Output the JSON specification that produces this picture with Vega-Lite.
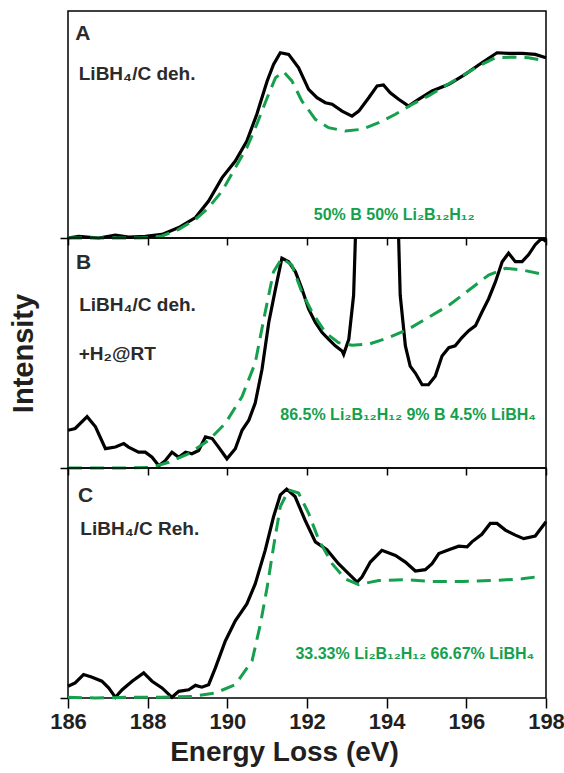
{
  "$schema": "https://vega.github.io/schema/vega-lite/v6.json",
  "padding": {"left": 8, "top": 10, "right": 0, "bottom": 0},
  "background": "white",
  "spacing": 0,
  "bounds": "flush",
  "config": {
    "view": {"stroke": "#000", "strokeWidth": 1.5},
    "font": "Liberation Sans"
  },
  "datasets": {
    "A": [
      {"series":"m","energy":186.00,"intensity":0.0},{"series":"m","energy":186.27,"intensity":0.007},{"series":"m","energy":186.77,"intensity":0.0},{"series":"m","energy":187.19,"intensity":0.013},{"series":"m","energy":187.52,"intensity":0.004},{"series":"m","energy":187.94,"intensity":0.007},{"series":"m","energy":188.36,"intensity":0.016},{"series":"m","energy":188.78,"intensity":0.046},{"series":"m","energy":189.20,"intensity":0.090},{"series":"m","energy":189.53,"intensity":0.163},{"series":"m","energy":189.87,"intensity":0.266},{"series":"m","energy":190.20,"intensity":0.339},{"series":"m","energy":190.49,"intensity":0.427},{"series":"m","energy":190.74,"intensity":0.545},{"series":"m","energy":191.00,"intensity":0.692},{"series":"m","energy":191.16,"intensity":0.765},{"series":"m","energy":191.33,"intensity":0.816},{"series":"m","energy":191.54,"intensity":0.809},{"series":"m","energy":191.79,"intensity":0.750},{"series":"m","energy":192.04,"intensity":0.655},{"series":"m","energy":192.25,"intensity":0.618},{"series":"m","energy":192.46,"intensity":0.596},{"series":"m","energy":192.63,"intensity":0.589},{"series":"m","energy":192.88,"intensity":0.559},{"series":"m","energy":193.13,"intensity":0.537},{"series":"m","energy":193.30,"intensity":0.559},{"series":"m","energy":193.55,"intensity":0.618},{"series":"m","energy":193.76,"intensity":0.670},{"series":"m","energy":193.92,"intensity":0.674},{"series":"m","energy":194.09,"intensity":0.640},{"series":"m","energy":194.30,"intensity":0.611},{"series":"m","energy":194.55,"intensity":0.581},{"series":"m","energy":194.80,"intensity":0.611},{"series":"m","energy":195.14,"intensity":0.648},{"series":"m","energy":195.56,"intensity":0.677},{"series":"m","energy":195.97,"intensity":0.721},{"series":"m","energy":196.39,"intensity":0.772},{"series":"m","energy":196.77,"intensity":0.816},{"series":"m","energy":197.06,"intensity":0.813},{"series":"m","energy":197.40,"intensity":0.813},{"series":"m","energy":197.73,"intensity":0.809},{"series":"m","energy":198.00,"intensity":0.794},
      {"series":"f","energy":186.00,"intensity":0.0},{"series":"f","energy":186.69,"intensity":0.0},{"series":"f","energy":187.52,"intensity":0.0},{"series":"f","energy":188.03,"intensity":0.001},{"series":"f","energy":188.36,"intensity":0.009},{"series":"f","energy":188.78,"intensity":0.038},{"series":"f","energy":189.20,"intensity":0.082},{"series":"f","energy":189.53,"intensity":0.134},{"series":"f","energy":189.87,"intensity":0.207},{"series":"f","energy":190.20,"intensity":0.310},{"series":"f","energy":190.49,"intensity":0.398},{"series":"f","energy":190.74,"intensity":0.501},{"series":"f","energy":191.00,"intensity":0.618},{"series":"f","energy":191.21,"intensity":0.706},{"series":"f","energy":191.41,"intensity":0.733},{"series":"f","energy":191.62,"intensity":0.692},{"series":"f","energy":191.87,"intensity":0.604},{"series":"f","energy":192.21,"intensity":0.523},{"series":"f","energy":192.54,"intensity":0.486},{"series":"f","energy":192.96,"intensity":0.471},{"series":"f","energy":193.38,"intensity":0.479},{"series":"f","energy":193.80,"intensity":0.508},{"series":"f","energy":194.22,"intensity":0.545},{"series":"f","energy":194.64,"intensity":0.589},{"series":"f","energy":195.05,"intensity":0.626},{"series":"f","energy":195.47,"intensity":0.670},{"series":"f","energy":195.89,"intensity":0.714},{"series":"f","energy":196.31,"intensity":0.758},{"series":"f","energy":196.73,"intensity":0.794},{"series":"f","energy":197.15,"intensity":0.797},{"series":"f","energy":197.56,"intensity":0.794},{"series":"f","energy":198.00,"intensity":0.780}
    ],
    "B": [
      {"series":"m","energy":186.00,"intensity":0.164},{"series":"m","energy":186.18,"intensity":0.172},{"series":"m","energy":186.48,"intensity":0.223},{"series":"m","energy":186.69,"intensity":0.179},{"series":"m","energy":186.94,"intensity":0.084},{"series":"m","energy":187.19,"intensity":0.091},{"series":"m","energy":187.40,"intensity":0.106},{"series":"m","energy":187.52,"intensity":0.091},{"series":"m","energy":187.77,"intensity":0.069},{"series":"m","energy":187.94,"intensity":0.069},{"series":"m","energy":188.11,"intensity":0.047},{"series":"m","energy":188.28,"intensity":0.010},{"series":"m","energy":188.44,"intensity":0.032},{"series":"m","energy":188.61,"intensity":0.069},{"series":"m","energy":188.78,"intensity":0.047},{"series":"m","energy":188.95,"intensity":0.069},{"series":"m","energy":189.11,"intensity":0.062},{"series":"m","energy":189.28,"intensity":0.076},{"series":"m","energy":189.45,"intensity":0.135},{"series":"m","energy":189.62,"intensity":0.128},{"series":"m","energy":189.78,"intensity":0.091},{"series":"m","energy":189.99,"intensity":0.040},{"series":"m","energy":190.20,"intensity":0.084},{"series":"m","energy":190.37,"intensity":0.164},{"series":"m","energy":190.54,"intensity":0.208},{"series":"m","energy":190.70,"intensity":0.282},{"series":"m","energy":190.87,"intensity":0.428},{"series":"m","energy":191.04,"intensity":0.633},{"series":"m","energy":191.21,"intensity":0.780},{"series":"m","energy":191.37,"intensity":0.912},{"series":"m","energy":191.54,"intensity":0.897},{"series":"m","energy":191.71,"intensity":0.853},{"series":"m","energy":191.87,"intensity":0.780},{"series":"m","energy":192.04,"intensity":0.692},{"series":"m","energy":192.21,"intensity":0.633},{"series":"m","energy":192.38,"intensity":0.589},{"series":"m","energy":192.54,"intensity":0.560},{"series":"m","energy":192.71,"intensity":0.531},{"series":"m","energy":192.88,"intensity":0.509},{"series":"m","energy":192.92,"intensity":0.494},{"series":"m","energy":193.05,"intensity":0.560},{"series":"m","energy":193.17,"intensity":0.751},{"series":"m","energy":193.21,"intensity":0.971},{"series":"m","energy":193.28,"intensity":1.4},{"series":"m","energy":193.75,"intensity":2.5},{"series":"m","energy":194.26,"intensity":1.4},{"series":"m","energy":194.30,"intensity":1.0},{"series":"m","energy":194.34,"intensity":0.751},{"series":"m","energy":194.47,"intensity":0.531},{"series":"m","energy":194.59,"intensity":0.443},{"series":"m","energy":194.72,"intensity":0.413},{"series":"m","energy":194.89,"intensity":0.362},{"series":"m","energy":195.05,"intensity":0.362},{"series":"m","energy":195.22,"intensity":0.399},{"series":"m","energy":195.39,"intensity":0.487},{"series":"m","energy":195.56,"intensity":0.523},{"series":"m","energy":195.72,"intensity":0.531},{"series":"m","energy":195.89,"intensity":0.567},{"series":"m","energy":196.06,"intensity":0.597},{"series":"m","energy":196.23,"intensity":0.619},{"series":"m","energy":196.39,"intensity":0.677},{"series":"m","energy":196.56,"intensity":0.736},{"series":"m","energy":196.73,"intensity":0.809},{"series":"m","energy":196.90,"intensity":0.897},{"series":"m","energy":197.06,"intensity":0.934},{"series":"m","energy":197.23,"intensity":0.897},{"series":"m","energy":197.40,"intensity":0.897},{"series":"m","energy":197.56,"intensity":0.927},{"series":"m","energy":197.73,"intensity":0.971},{"series":"m","energy":197.90,"intensity":1.0},{"series":"m","energy":198.00,"intensity":0.985},
      {"series":"f","energy":186.00,"intensity":0.0},{"series":"f","energy":186.69,"intensity":0.0},{"series":"f","energy":187.52,"intensity":0.0},{"series":"f","energy":188.11,"intensity":0.003},{"series":"f","energy":188.53,"intensity":0.025},{"series":"f","energy":189.03,"intensity":0.062},{"series":"f","energy":189.53,"intensity":0.120},{"series":"f","energy":189.95,"intensity":0.194},{"series":"f","energy":190.37,"intensity":0.311},{"series":"f","energy":190.70,"intensity":0.457},{"series":"f","energy":190.95,"intensity":0.677},{"series":"f","energy":191.16,"intensity":0.853},{"series":"f","energy":191.37,"intensity":0.912},{"series":"f","energy":191.62,"intensity":0.883},{"series":"f","energy":191.87,"intensity":0.765},{"series":"f","energy":192.13,"intensity":0.677},{"series":"f","energy":192.46,"intensity":0.589},{"series":"f","energy":192.79,"intensity":0.545},{"series":"f","energy":193.13,"intensity":0.534},{"series":"f","energy":193.55,"intensity":0.538},{"series":"f","energy":194.05,"intensity":0.567},{"series":"f","energy":194.55,"intensity":0.604},{"series":"f","energy":195.05,"intensity":0.655},{"series":"f","energy":195.56,"intensity":0.707},{"series":"f","energy":196.06,"intensity":0.773},{"series":"f","energy":196.56,"intensity":0.839},{"series":"f","energy":196.98,"intensity":0.868},{"series":"f","energy":197.40,"intensity":0.861},{"series":"f","energy":198.00,"intensity":0.839}
    ],
    "C": [
      {"series":"m","energy":186.00,"intensity":0.051},{"series":"m","energy":186.18,"intensity":0.066},{"series":"m","energy":186.39,"intensity":0.102},{"series":"m","energy":186.59,"intensity":0.091},{"series":"m","energy":186.85,"intensity":0.073},{"series":"m","energy":187.02,"intensity":0.044},{"series":"m","energy":187.19,"intensity":0.003},{"series":"m","energy":187.36,"intensity":0.036},{"series":"m","energy":187.61,"intensity":0.073},{"series":"m","energy":187.90,"intensity":0.109},{"series":"m","energy":188.11,"intensity":0.073},{"series":"m","energy":188.36,"intensity":0.044},{"series":"m","energy":188.61,"intensity":0.003},{"series":"m","energy":188.78,"intensity":0.029},{"series":"m","energy":189.03,"intensity":0.036},{"series":"m","energy":189.20,"intensity":0.055},{"series":"m","energy":189.36,"intensity":0.047},{"series":"m","energy":189.53,"intensity":0.058},{"series":"m","energy":189.70,"intensity":0.131},{"series":"m","energy":189.95,"intensity":0.248},{"series":"m","energy":190.20,"intensity":0.336},{"series":"m","energy":190.49,"intensity":0.409},{"series":"m","energy":190.70,"intensity":0.496},{"series":"m","energy":190.95,"intensity":0.642},{"series":"m","energy":191.16,"intensity":0.788},{"series":"m","energy":191.33,"intensity":0.883},{"series":"m","energy":191.49,"intensity":0.908},{"series":"m","energy":191.70,"intensity":0.876},{"series":"m","energy":191.95,"intensity":0.774},{"series":"m","energy":192.21,"intensity":0.679},{"series":"m","energy":192.50,"intensity":0.645},{"series":"m","energy":192.79,"intensity":0.584},{"series":"m","energy":193.05,"intensity":0.540},{"series":"m","energy":193.26,"intensity":0.504},{"series":"m","energy":193.38,"intensity":0.526},{"series":"m","energy":193.59,"intensity":0.591},{"series":"m","energy":193.88,"intensity":0.642},{"series":"m","energy":194.22,"intensity":0.620},{"series":"m","energy":194.47,"intensity":0.591},{"series":"m","energy":194.72,"intensity":0.552},{"series":"m","energy":194.97,"intensity":0.558},{"series":"m","energy":195.14,"intensity":0.584},{"series":"m","energy":195.31,"intensity":0.628},{"series":"m","energy":195.56,"intensity":0.645},{"series":"m","energy":195.81,"intensity":0.660},{"series":"m","energy":196.02,"intensity":0.657},{"series":"m","energy":196.14,"intensity":0.679},{"series":"m","energy":196.39,"intensity":0.712},{"series":"m","energy":196.60,"intensity":0.759},{"series":"m","energy":196.77,"intensity":0.759},{"series":"m","energy":196.98,"intensity":0.730},{"series":"m","energy":197.23,"intensity":0.708},{"series":"m","energy":197.44,"intensity":0.693},{"series":"m","energy":197.73,"intensity":0.704},{"series":"m","energy":198.00,"intensity":0.766},
      {"series":"f","energy":186.00,"intensity":0.003},{"series":"f","energy":186.69,"intensity":0.0},{"series":"f","energy":187.52,"intensity":0.003},{"series":"f","energy":188.36,"intensity":0.003},{"series":"f","energy":189.11,"intensity":0.007},{"series":"f","energy":189.70,"intensity":0.022},{"series":"f","energy":190.20,"intensity":0.058},{"series":"f","energy":190.62,"intensity":0.161},{"series":"f","energy":190.83,"intensity":0.321},{"series":"f","energy":191.00,"intensity":0.482},{"series":"f","energy":191.16,"intensity":0.657},{"series":"f","energy":191.33,"intensity":0.832},{"series":"f","energy":191.54,"intensity":0.905},{"series":"f","energy":191.79,"intensity":0.891},{"series":"f","energy":192.04,"intensity":0.803},{"series":"f","energy":192.30,"intensity":0.686},{"series":"f","energy":192.63,"intensity":0.584},{"series":"f","energy":192.96,"intensity":0.518},{"series":"f","energy":193.30,"intensity":0.493},{"series":"f","energy":193.80,"intensity":0.511},{"series":"f","energy":194.47,"intensity":0.514},{"series":"f","energy":195.14,"intensity":0.507},{"series":"f","energy":195.89,"intensity":0.507},{"series":"f","energy":196.73,"intensity":0.511},{"series":"f","energy":197.40,"intensity":0.518},{"series":"f","energy":197.82,"intensity":0.528}
    ],
    "labels": [
      {"panel":"A","kind":"letter","text":"A","energy":186.18,"intensity":0.872},
      {"panel":"A","kind":"sample","text":"LiBH₄/C deh.","energy":186.27,"intensity":0.696},
      {"panel":"A","kind":"fit","text":"50% B 50% Li₂B₁₂H₁₂","energy":192.17,"intensity":0.078},
      {"panel":"B","kind":"letter","text":"B","energy":186.20,"intensity":0.864},
      {"panel":"B","kind":"sample","text":"LiBH₄/C deh.","energy":186.28,"intensity":0.681},
      {"panel":"B","kind":"sample","text":"+H₂@RT","energy":186.27,"intensity":0.469},
      {"panel":"B","kind":"fit","text":"86.5% Li₂B₁₂H₁₂ 9% B 4.5% LiBH₄","energy":191.33,"intensity":0.209},
      {"panel":"C","kind":"letter","text":"C","energy":186.25,"intensity":0.853},
      {"panel":"C","kind":"sample","text":"LiBH₄/C Reh.","energy":186.31,"intensity":0.707},
      {"panel":"C","kind":"fit","text":"33.33% Li₂B₁₂H₁₂ 66.67% LiBH₄","energy":191.71,"intensity":0.169}
    ]
  },
  "vconcat": [
    {
      "width": 478, "height": 227,
      "layer": [
        {
          "data": {"name": "A"},
          "transform": [{"filter": "datum.series === 'm'"}],
          "mark": {"type": "line", "color": "#000", "strokeWidth": 3.2},
          "encoding": {
            "x": {"field": "energy", "type": "quantitative", "scale": {"domain": [186, 198], "nice": false, "zero": false},
                  "axis": {"orient": "bottom", "title": null, "values": [186,187,188,189,190,191,192,193,194,195,196,197,198], "labels": false, "domain": false, "tickSize": 7, "tickWidth": 1.5, "tickColor": "#000", "grid": false}},
            "y": {"field": "intensity", "type": "quantitative", "scale": {"domain": [0, 1], "nice": false, "zero": false},
                  "axis": {"title": null, "values": [0], "labels": false, "domain": false, "tickSize": 8, "tickWidth": 1.5, "tickColor": "#000", "grid": false}}
          }
        },
        {
          "data": {"name": "A"},
          "transform": [{"filter": "datum.series === 'f'"}],
          "mark": {"type": "line", "color": "#14a04c", "strokeWidth": 3, "strokeDash": [14, 8]},
          "encoding": {"x": {"field": "energy", "type": "quantitative"}, "y": {"field": "intensity", "type": "quantitative"}}
        },
        {
          "data": {"name": "labels"},
          "transform": [{"filter": "datum.panel === 'A' && datum.kind === 'letter'"}],
          "mark": {"type": "text", "align": "left", "baseline": "alphabetic", "fontSize": 21, "fontWeight": "bold", "color": "#2b2b2b"},
          "encoding": {"x": {"field": "energy", "type": "quantitative"}, "y": {"field": "intensity", "type": "quantitative"}, "text": {"field": "text"}}
        },
        {
          "data": {"name": "labels"},
          "transform": [{"filter": "datum.panel === 'A' && datum.kind === 'sample'"}],
          "mark": {"type": "text", "align": "left", "baseline": "alphabetic", "fontSize": 19, "fontWeight": "bold", "color": "#2b2b2b"},
          "encoding": {"x": {"field": "energy", "type": "quantitative"}, "y": {"field": "intensity", "type": "quantitative"}, "text": {"field": "text"}}
        },
        {
          "data": {"name": "labels"},
          "transform": [{"filter": "datum.panel === 'A' && datum.kind === 'fit'"}],
          "mark": {"type": "text", "align": "left", "baseline": "alphabetic", "fontSize": 16, "fontWeight": "bold", "color": "#14a04c"},
          "encoding": {"x": {"field": "energy", "type": "quantitative"}, "y": {"field": "intensity", "type": "quantitative"}, "text": {"field": "text"}}
        }
      ]
    },
    {
      "width": 478, "height": 230,
      "layer": [
        {
          "data": {"name": "B"},
          "transform": [{"filter": "datum.series === 'm'"}],
          "mark": {"type": "line", "color": "#000", "strokeWidth": 3.2, "clip": true},
          "encoding": {
            "x": {"field": "energy", "type": "quantitative", "scale": {"domain": [186, 198], "nice": false, "zero": false},
                  "axis": {"orient": "bottom", "title": null, "values": [186,187,188,189,190,191,192,193,194,195,196,197,198], "labels": false, "domain": false, "tickSize": 7, "tickWidth": 1.5, "tickColor": "#000", "grid": false}},
            "y": {"field": "intensity", "type": "quantitative", "scale": {"domain": [0, 1], "nice": false, "zero": false},
                  "axis": {"title": "Intensity", "titleFontSize": 29, "titleFontWeight": "bold", "titleColor": "#231f20", "titlePadding": 21, "values": [0], "labels": false, "domain": false, "tickSize": 8, "tickWidth": 1.5, "tickColor": "#000", "grid": false}}
          }
        },
        {
          "data": {"name": "B"},
          "transform": [{"filter": "datum.series === 'f'"}],
          "mark": {"type": "line", "color": "#14a04c", "strokeWidth": 3, "strokeDash": [14, 8]},
          "encoding": {"x": {"field": "energy", "type": "quantitative"}, "y": {"field": "intensity", "type": "quantitative"}}
        },
        {
          "data": {"name": "labels"},
          "transform": [{"filter": "datum.panel === 'B' && datum.kind === 'letter'"}],
          "mark": {"type": "text", "align": "left", "baseline": "alphabetic", "fontSize": 21, "fontWeight": "bold", "color": "#2b2b2b"},
          "encoding": {"x": {"field": "energy", "type": "quantitative"}, "y": {"field": "intensity", "type": "quantitative"}, "text": {"field": "text"}}
        },
        {
          "data": {"name": "labels"},
          "transform": [{"filter": "datum.panel === 'B' && datum.kind === 'sample'"}],
          "mark": {"type": "text", "align": "left", "baseline": "alphabetic", "fontSize": 19, "fontWeight": "bold", "color": "#2b2b2b"},
          "encoding": {"x": {"field": "energy", "type": "quantitative"}, "y": {"field": "intensity", "type": "quantitative"}, "text": {"field": "text"}}
        },
        {
          "data": {"name": "labels"},
          "transform": [{"filter": "datum.panel === 'B' && datum.kind === 'fit'"}],
          "mark": {"type": "text", "align": "left", "baseline": "alphabetic", "fontSize": 16, "fontWeight": "bold", "color": "#14a04c"},
          "encoding": {"x": {"field": "energy", "type": "quantitative"}, "y": {"field": "intensity", "type": "quantitative"}, "text": {"field": "text"}}
        }
      ]
    },
    {
      "width": 478, "height": 230,
      "layer": [
        {
          "data": {"name": "C"},
          "transform": [{"filter": "datum.series === 'm'"}],
          "mark": {"type": "line", "color": "#000", "strokeWidth": 3.2},
          "encoding": {
            "x": {"field": "energy", "type": "quantitative", "scale": {"domain": [186, 198], "nice": false, "zero": false},
                  "axis": {"orient": "bottom", "title": "Energy Loss (eV)", "titleFontSize": 28, "titleFontWeight": "bold", "titleColor": "#231f20", "titlePadding": 6, "titleX": 216, "titleAlign": "center",
                           "values": [186,187,188,189,190,191,192,193,194,195,196,197,198],
                           "labelExpr": "datum.value % 2 === 0 ? datum.label : ''", "labelFontSize": 22, "labelFontWeight": "bold", "labelColor": "#231f20", "labelFlush": false, "labelOverlap": false, "labelPadding": 3,
                           "domain": false, "tickSize": {"condition": {"test": "datum.value % 2 === 0", "value": 10}, "value": 6}, "tickWidth": 1.5, "tickColor": "#000", "grid": false}},
            "y": {"field": "intensity", "type": "quantitative", "scale": {"domain": [0, 1], "nice": false, "zero": false},
                  "axis": {"title": null, "values": [0], "labels": false, "domain": false, "tickSize": 8, "tickWidth": 1.5, "tickColor": "#000", "grid": false}}
          }
        },
        {
          "data": {"name": "C"},
          "transform": [{"filter": "datum.series === 'f'"}],
          "mark": {"type": "line", "color": "#14a04c", "strokeWidth": 3, "strokeDash": [14, 8]},
          "encoding": {"x": {"field": "energy", "type": "quantitative"}, "y": {"field": "intensity", "type": "quantitative"}}
        },
        {
          "data": {"name": "labels"},
          "transform": [{"filter": "datum.panel === 'C' && datum.kind === 'letter'"}],
          "mark": {"type": "text", "align": "left", "baseline": "alphabetic", "fontSize": 21, "fontWeight": "bold", "color": "#2b2b2b"},
          "encoding": {"x": {"field": "energy", "type": "quantitative"}, "y": {"field": "intensity", "type": "quantitative"}, "text": {"field": "text"}}
        },
        {
          "data": {"name": "labels"},
          "transform": [{"filter": "datum.panel === 'C' && datum.kind === 'sample'"}],
          "mark": {"type": "text", "align": "left", "baseline": "alphabetic", "fontSize": 19, "fontWeight": "bold", "color": "#2b2b2b"},
          "encoding": {"x": {"field": "energy", "type": "quantitative"}, "y": {"field": "intensity", "type": "quantitative"}, "text": {"field": "text"}}
        },
        {
          "data": {"name": "labels"},
          "transform": [{"filter": "datum.panel === 'C' && datum.kind === 'fit'"}],
          "mark": {"type": "text", "align": "left", "baseline": "alphabetic", "fontSize": 16, "fontWeight": "bold", "color": "#14a04c"},
          "encoding": {"x": {"field": "energy", "type": "quantitative"}, "y": {"field": "intensity", "type": "quantitative"}, "text": {"field": "text"}}
        }
      ]
    }
  ]
}
